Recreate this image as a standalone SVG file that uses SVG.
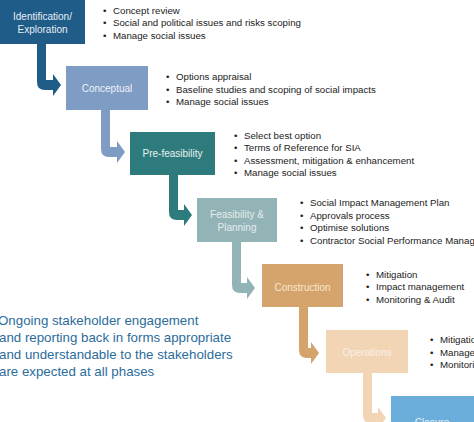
<svg xmlns="http://www.w3.org/2000/svg" width="474" height="422" viewBox="0 0 474 422">
<style>
.lbl{font-family:"Liberation Sans",Arial,sans-serif;font-size:10px;text-anchor:middle}
.bl{font-family:"Liberation Sans",Arial,sans-serif;font-size:9.7px;fill:#222}
.note{font-family:"Liberation Sans",Arial,sans-serif;font-size:13.3px;fill:#2b6c9b}
</style>
<rect width="474" height="422" fill="#fff"/>
<g id="connectors">
<path d="M37,44 H46 V80 H53 V74 L61,85 L53,96 V90 H45 Q37,90 37,82 Z" fill="#1f5c88"/>
<path d="M101,110 H110 V147 H117 V141 L125,152 L117,163 V157 H109 Q101,157 101,149 Z" fill="#7e9cc4"/>
<path d="M169,175 H178 V210 H184 V204 L192,215 L184,226 V220 H177 Q169,220 169,212 Z" fill="#2e7b7d"/>
<path d="M232,242 H241 V283 H247 V277 L255,288 L247,299 V293 H240 Q232,293 232,285 Z" fill="#93b4b6"/>
<path d="M299,307 H308 V348 H311 V342 L319,353 L311,364 V358 H307 Q299,358 299,350 Z" fill="#d4a46c"/>
<path d="M363,373 H372 V413 H378 V407 L386,418 L378,429 V423 H371 Q363,423 363,415 Z" fill="#f1d5b5"/>
</g>
<g id="n1">
<rect x="0" y="-2" width="85" height="46" fill="#1f5c88"/>
<text class="lbl" x="42.5" y="20" fill="#e6eef5">Identification/</text>
<text class="lbl" x="42.5" y="33" fill="#e6eef5">Exploration</text>
<g class="bl"><text x="103" y="13.5">•</text><text x="113" y="13.5">Concept review</text>
<text x="103" y="26">•</text><text x="113" y="26">Social and political issues and risks scoping</text>
<text x="103" y="38.5">•</text><text x="113" y="38.5">Manage social issues</text></g>
</g>
<g id="n2">
<rect x="66" y="66" width="82" height="44" fill="#7e9cc4"/>
<text class="lbl" x="107" y="92" fill="#eef2f8">Conceptual</text>
<g class="bl"><text x="166" y="80">•</text><text x="176" y="80">Options appraisal</text>
<text x="166" y="92.5">•</text><text x="176" y="92.5">Baseline studies and scoping of social impacts</text>
<text x="166" y="105">•</text><text x="176" y="105">Manage social issues</text></g>
</g>
<g id="n3">
<rect x="130" y="132" width="85" height="43" fill="#2e7b7d"/>
<text class="lbl" x="172.5" y="157" fill="#e8f1f1">Pre-feasibility</text>
<g class="bl"><text x="234" y="138.5">•</text><text x="244" y="138.5">Select best option</text>
<text x="234" y="151">•</text><text x="244" y="151">Terms of Reference for SIA</text>
<text x="234" y="163.5">•</text><text x="244" y="163.5">Assessment, mitigation &amp; enhancement</text>
<text x="234" y="176">•</text><text x="244" y="176">Manage social issues</text></g>
</g>
<g id="n4">
<rect x="197" y="198" width="80" height="44" fill="#93b4b6"/>
<text class="lbl" x="237" y="218" fill="#e3ecec">Feasibility &amp;</text>
<text class="lbl" x="237" y="231" fill="#e3ecec">Planning</text>
<g class="bl"><text x="300" y="206">•</text><text x="310" y="206">Social Impact Management Plan</text>
<text x="300" y="218.5">•</text><text x="310" y="218.5">Approvals process</text>
<text x="300" y="231">•</text><text x="310" y="231">Optimise solutions</text>
<text x="300" y="243.5">•</text><text x="310" y="243.5">Contractor Social Performance Management</text></g>
</g>
<g id="n5">
<rect x="262" y="264" width="81" height="43" fill="#d4a46c"/>
<text class="lbl" x="302.5" y="291" fill="#f7e7d0">Construction</text>
<g class="bl"><text x="366" y="277.5">•</text><text x="376" y="277.5">Mitigation</text>
<text x="366" y="290">•</text><text x="376" y="290">Impact management</text>
<text x="366" y="302.5">•</text><text x="376" y="302.5">Monitoring &amp; Audit</text></g>
</g>
<g id="n6">
<rect x="326" y="330" width="82" height="43" fill="#f1d5b5"/>
<text class="lbl" x="367" y="356" fill="#fbf0e4">Operations</text>
<g class="bl"><text x="430" y="343">•</text><text x="440" y="343">Mitigation</text>
<text x="430" y="355.5">•</text><text x="440" y="355.5">Management</text>
<text x="430" y="368">•</text><text x="440" y="368">Monitoring</text></g>
</g>
<g id="n7">
<rect x="391" y="396" width="83" height="30" fill="#6caedb"/>
<text class="lbl" x="432" y="426" fill="#e3f0f9">Closure</text>
</g>
<g id="note" class="note">
<text x="-2" y="324.5">Ongoing stakeholder engagement</text>
<text x="-1" y="341.5">and reporting back in forms appropriate</text>
<text x="-1" y="358.5">and understandable to the stakeholders</text>
<text x="-1" y="375.5">are expected at all phases</text>
</g>
</svg>
